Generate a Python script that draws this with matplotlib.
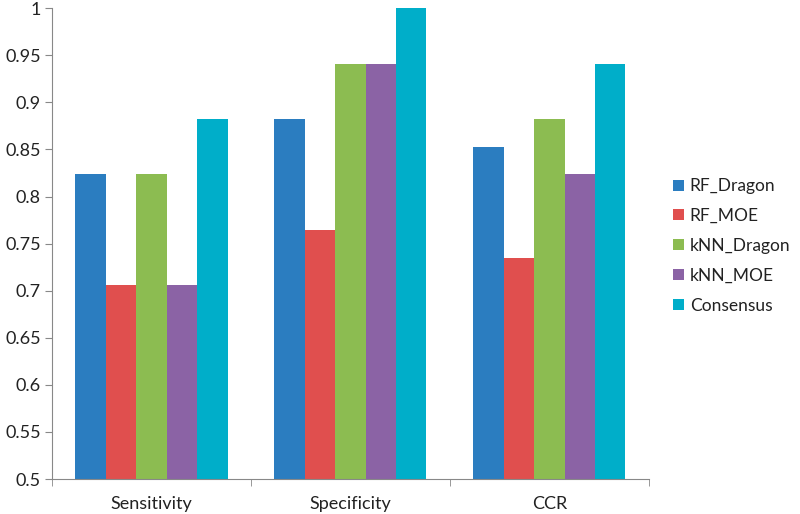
import matplotlib.pyplot as plt
import numpy as np

plt.rcParams['font.family'] = ['Lato', 'DejaVu Sans']

categories = ['Sensitivity', 'Specificity', 'CCR']
series = ['RF_Dragon', 'RF_MOE', 'kNN_Dragon', 'kNN_MOE', 'Consensus']
rf_dragon = [0.8235, 0.8824, 0.853]
rf_moe = [0.7059, 0.7647, 0.735]
knn_dragon = [0.8235, 0.9412, 0.882]
knn_moe = [0.7059, 0.9412, 0.8235]
consensus = [0.8824, 1.0, 0.9412]
values = [rf_dragon, rf_moe, knn_dragon, knn_moe, consensus]
colors = ['#2B7DC0', '#E04F4E', '#8CBC51', '#8B63A5', '#00AEC9']

fig = plt.figure(figsize=(8, 5.14), dpi=100)
ax = fig.add_axes([0.065, 0.068, 0.746, 0.916])

x = np.arange(len(categories))
w = 0.153
for i, (name, vals) in enumerate(zip(series, values)):
    ax.bar(x + (i - 2) * w, vals, w, color=colors[i], label=name)

ax.set_xlim(-0.5, 2.5)
ax.set_ylim(0.5, 1.0)
ax.set_yticks(np.arange(0.5, 1.001, 0.05))
ax.set_yticklabels(['0.5', '0.55', '0.6', '0.65', '0.7', '0.75', '0.8', '0.85', '0.9', '0.95', '1'])
ax.set_xticks(x)
ax.set_xticklabels(categories)
ax.set_xticks([-0.5, 0.5, 1.5, 2.5], minor=True)
ax.tick_params(axis='x', which='major', length=0, pad=12, labelsize=13, colors='#222222')
ax.tick_params(axis='x', which='minor', length=5, color='#888888')
ax.tick_params(axis='y', length=5, pad=3, color='#888888', labelsize=13, labelcolor='#222222')

for s in ['top', 'right']:
    ax.spines[s].set_visible(False)
for s in ['left', 'bottom']:
    ax.spines[s].set_color('#888888')

leg = ax.legend(loc='center left', bbox_to_anchor=(1.015, 0.495), frameon=False,
                handlelength=0.6, handleheight=0.6, handletextpad=0.35,
                labelspacing=0.8, fontsize=12.5)
for t in leg.get_texts():
    t.set_color('#222222')

fig.savefig('out.png', dpi=100)
